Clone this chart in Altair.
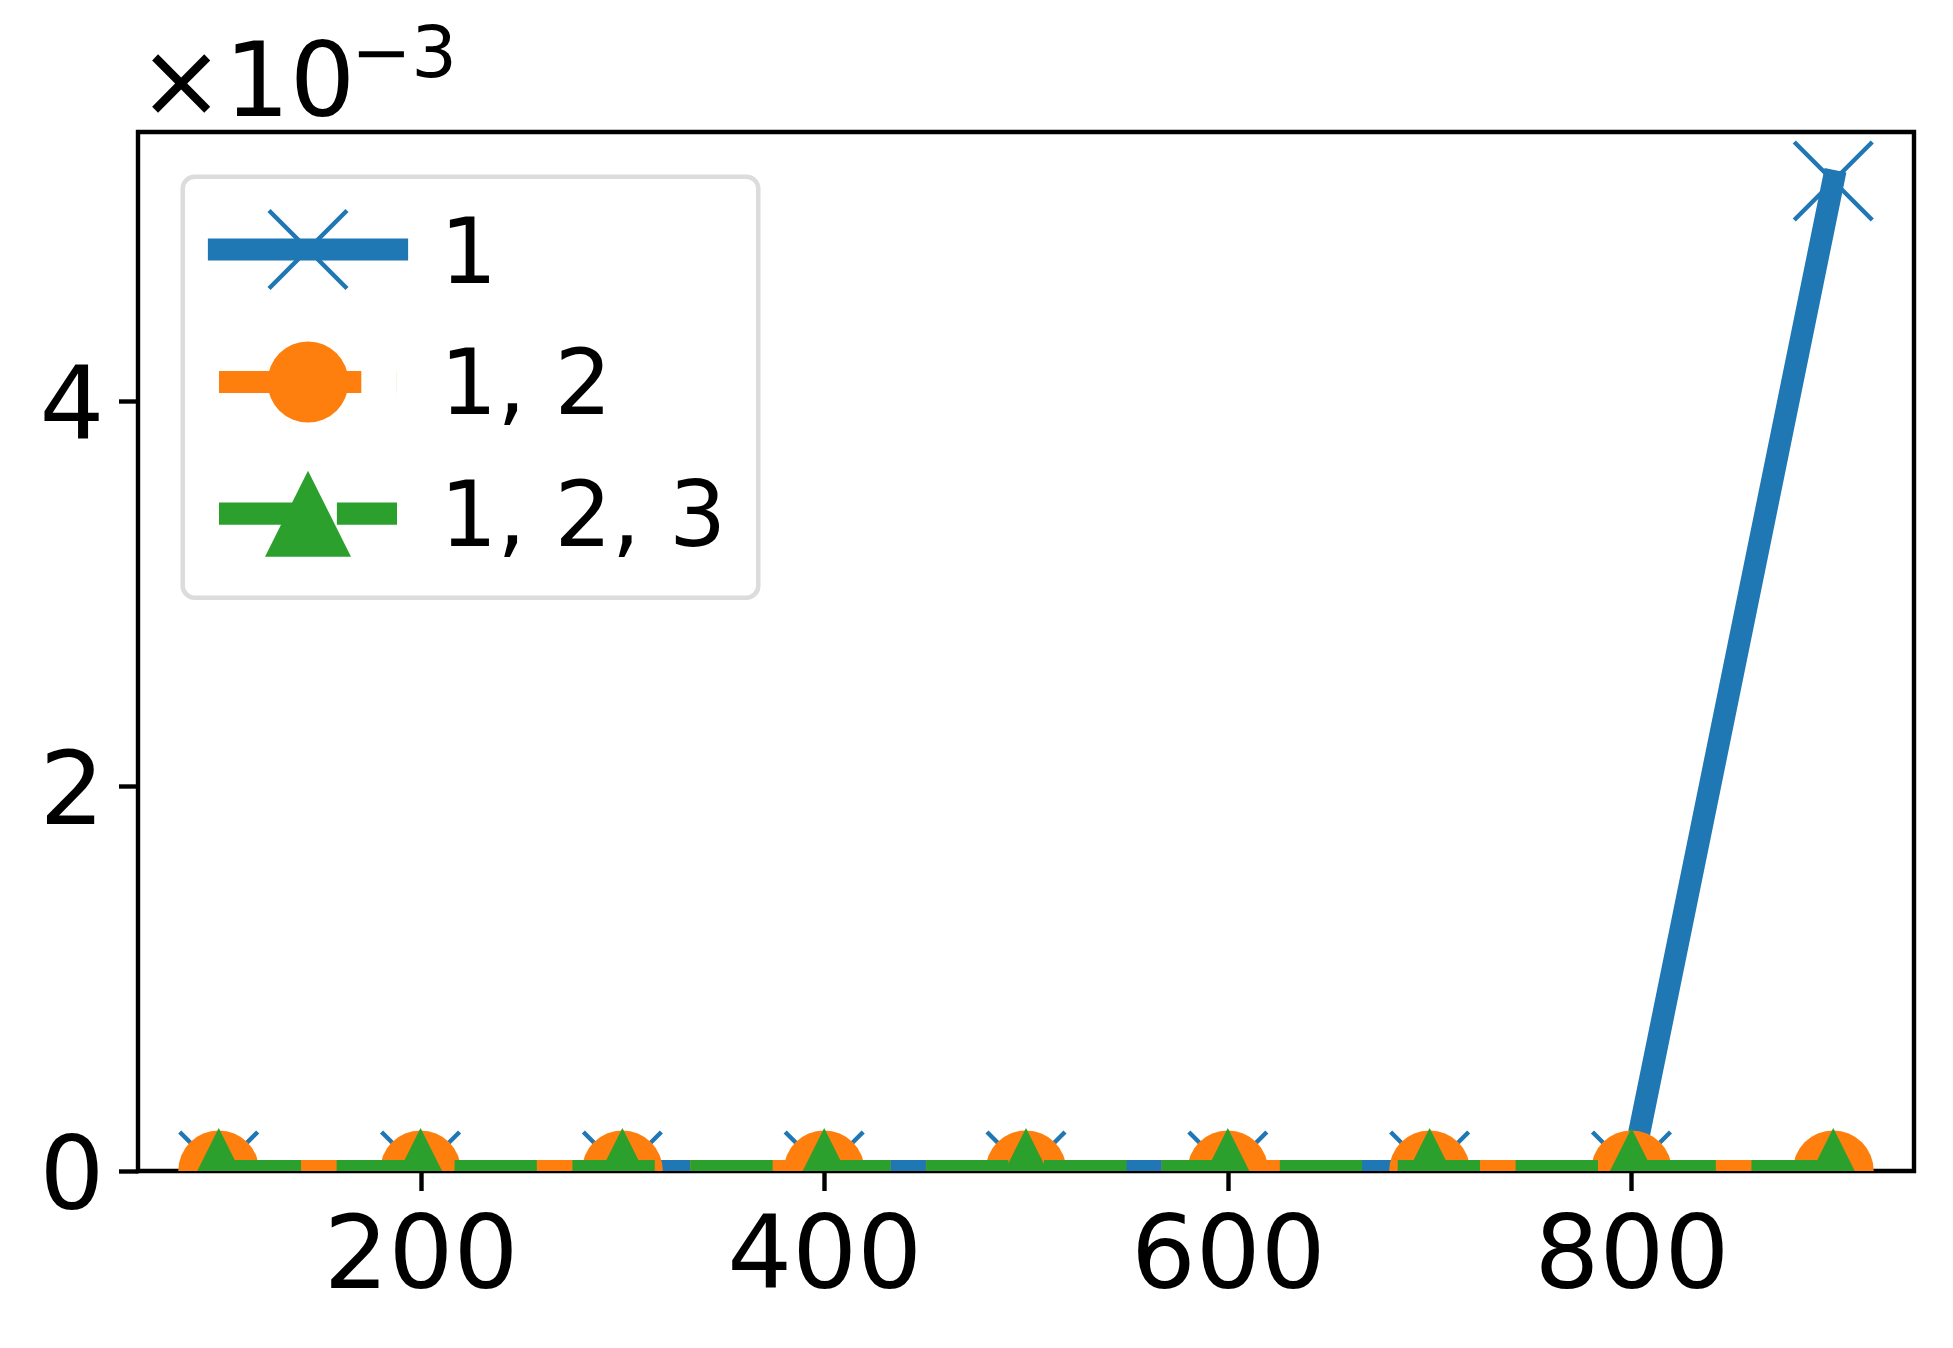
import altair as alt
import pandas as pd

# ---- data ----
x_values = [100, 200, 300, 400, 500, 600, 700, 800, 900]
y_s1 = [0, 0, 0, 0, 0, 0, 0, 0, 0.005145]
y_s12 = [0, 0, 0, 0, 0, 0, 0, 0, 0]
y_s123 = [0, 0, 0, 0, 0, 0, 0, 0, 0]
series_names = ["1", "1, 2", "1, 2, 3"]
series_colors = ["#1f77b4", "#ff7f0e", "#2ca02c"]
x_ticks = [200, 400, 600, 800]
y_ticks = [0, 0.002, 0.004]
offset_base = "×10"
offset_exp = "−3"

FONT = "DejaVu Sans"
LW = 22.24
series_values = [y_s1, y_s12, y_s123]
styles = [
    dict(dash=None, cap="square", shape="M-1,-1L1,1M-1,1L1,-1", filled=False, size=6084, sw=4.4),
    dict(dash=[142.3, 35.6, 22.24, 35.6], cap="butt", shape="circle", filled=True, size=6561, sw=0),
    dict(dash=[82.3, 35.6], cap="butt", shape="M0,-1L1,1L-1,1Z", filled=True, size=7396, sw=0),
]

xscale = alt.Scale(domain=[60, 940], nice=False, zero=False)
yscale = alt.Scale(domain=[0, 0.0054], nice=False, zero=False)
xaxis = alt.Axis(values=x_ticks, title=None, grid=False, domain=False, labelFlush=False,
                 labelPadding=16, labelOverlap=False, labelLimit=1000)
yaxis = alt.Axis(values=y_ticks, title=None, grid=False, domain=False, labelFlush=False,
                 labelExpr="'' + round(datum.value * 1000)", labelBaseline="alphabetic",
                 labelOffset=37, labelPadding=14.5, labelOverlap=False, labelLimit=1000)

layers = []
for name, vals, col, st in zip(series_names, series_values, series_colors, styles):
    df = pd.DataFrame({"x": x_values, "y": vals, "series": name})
    line_kw = dict(color=col, strokeWidth=LW, strokeCap=st["cap"], strokeJoin="round", clip=True)
    if st["dash"] is not None:
        line_kw["strokeDash"] = st["dash"]
    enc = dict(x=alt.X("x:Q", scale=xscale, axis=xaxis), y=alt.Y("y:Q", scale=yscale, axis=yaxis))
    layers.append(alt.Chart(df).mark_line(**line_kw).encode(**enc))
    layers.append(alt.Chart(df).mark_point(shape=st["shape"], filled=st["filled"], size=st["size"],
                                           color=col, opacity=1, strokeWidth=st["sw"], clip=True)
                  .encode(**enc))

# ---- legend (drawn by hand to show line + marker + dash) ----
frame_df = pd.DataFrame({"k": [0]})
layers.append(alt.Chart(frame_df).mark_rect(fill="white", fillOpacity=0.8, stroke="#dcdcdc",
                                            strokeWidth=4.5, cornerRadius=12)
              .encode(x=alt.value(44.7), x2=alt.value(620.3), y=alt.value(44.7), y2=alt.value(465.7)))
row_y = [117.5, 250, 381.7]
text_y = [150.5, 282, 414]
for name, col, st, ry, ty in zip(series_names, series_colors, styles, row_y, text_y):
    ldf = pd.DataFrame({"label": [name]})
    rule_kw = dict(color=col, strokeWidth=LW, strokeCap=st["cap"])
    if st["dash"] is not None:
        rule_kw["strokeDash"] = st["dash"]
    layers.append(alt.Chart(ldf).mark_rule(**rule_kw)
                  .encode(x=alt.value(81), x2=alt.value(259), y=alt.value(ry)))
    layers.append(alt.Chart(ldf).mark_point(shape=st["shape"], filled=st["filled"], size=st["size"],
                                            color=col, opacity=1, strokeWidth=st["sw"])
                  .encode(x=alt.value(170), y=alt.value(ry)))
    layers.append(alt.Chart(ldf).mark_text(align="left", baseline="alphabetic", font=FONT,
                                           fontSize=90, color="black")
                  .encode(x=alt.value(302), y=alt.value(ty), text="label:N"))

# ---- offset text ×10^-3 ----
odf = pd.DataFrame({"base": [offset_base], "exp": [offset_exp]})
layers.append(alt.Chart(odf).mark_text(align="left", baseline="alphabetic", font=FONT,
                                       fontSize=103, color="black")
              .encode(x=alt.value(0), y=alt.value(-15.6), text="base:N"))
layers.append(alt.Chart(odf).mark_text(align="left", baseline="alphabetic", font=FONT,
                                       fontSize=72, color="black")
              .encode(x=alt.value(213), y=alt.value(-55), text="exp:N"))

chart = (
    alt.layer(*layers)
    .properties(width=1776, height=1039, autosize=alt.AutoSizeParams(type="none"),
                padding={"left": 130, "top": 124, "right": 31, "bottom": 169})
    .configure_view(stroke="black", strokeWidth=4.4)
    .configure_axis(labelFont=FONT, labelFontSize=102, labelColor="black",
                    tickColor="black", tickWidth=4.4, tickSize=19.5)
)

chart.save("out.html", embed_options={"renderer": "svg", "actions": False})
